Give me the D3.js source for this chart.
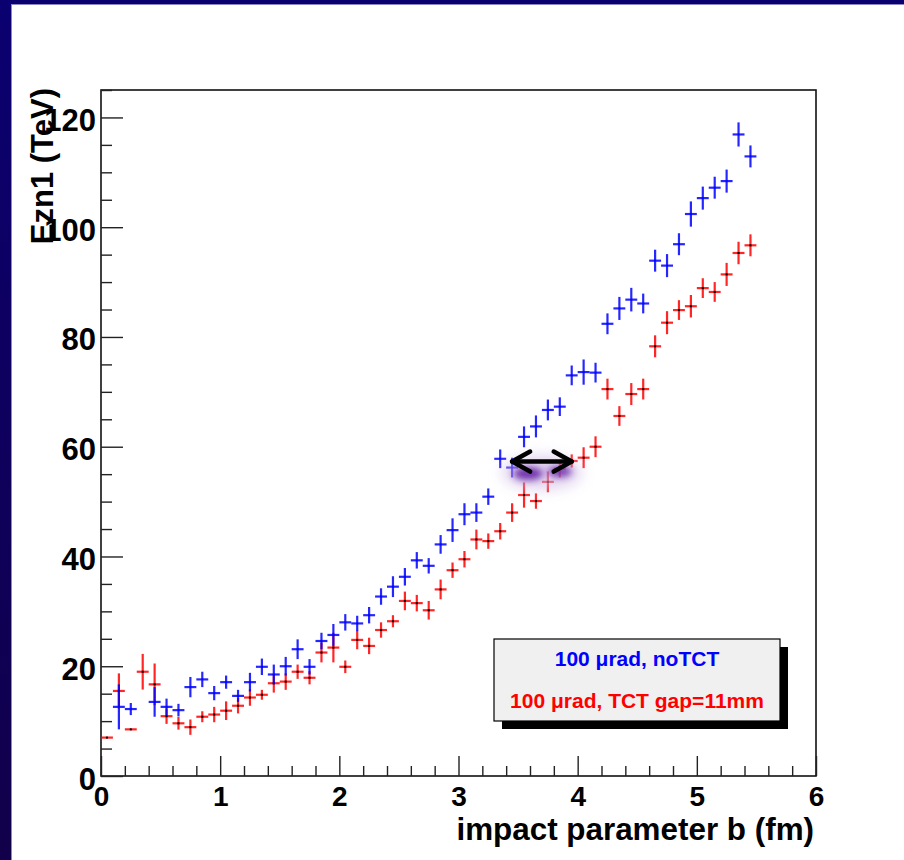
<!DOCTYPE html>
<html>
<head>
<meta charset="utf-8">
<script src="https://cdn.jsdelivr.net/npm/d3@7"></script>
<style>
  html, body { margin: 0; padding: 0; background: #0c0066; }
  svg { display: block; }
  text { font-family: "Liberation Sans", Arial, Helvetica, sans-serif; font-weight: bold; }
</style>
</head>
<body>
<svg id="chart" width="904" height="860"></svg>
<script>
// Bin centres of impact parameter b (fm)
const bCenters = [0.05, 0.15, 0.25, 0.35, 0.45, 0.55, 0.65, 0.75, 0.85, 0.95,
  1.05, 1.15, 1.25, 1.35, 1.45, 1.55, 1.65, 1.75, 1.85, 1.95,
  2.05, 2.15, 2.25, 2.35, 2.45, 2.55, 2.65, 2.75, 2.85, 2.95,
  3.05, 3.15, 3.25, 3.35, 3.45, 3.55, 3.65, 3.75, 3.85, 3.95,
  4.05, 4.15, 4.25, 4.35, 4.45, 4.55, 4.65, 4.75, 4.85, 4.95,
  5.05, 5.15, 5.25, 5.35, 5.45];
const binHalfWidth = 0.05;

// 100 µrad, noTCT — mean Ezn1 (TeV) and its error per bin (null = empty bin)
const noTctValues = [null, 12.6, 12.2, null, 13.5, 12.6, 12.0, 16.2, 17.6, 15.1,
  17.1, 14.6, 17.1, 19.9, 18.5, 20.0, 23.1, 19.9, 24.6, 25.7,
  28.0, 27.8, 29.3, 32.7, 34.5, 36.3, 39.3, 38.3, 42.2, 44.8,
  47.7, 48.0, 50.9, 57.8, 56.2, 61.8, 63.7, 66.7, 67.3, 73.0,
  73.6, 73.5, 82.4, 85.2, 86.8, 86.1, 93.9, 93.0, 96.9, 102.4,
  105.3, 107.2, 108.4, 116.9, 112.9];
const noTctErrors = [null, 4.1, 1.1, null, 2.7, 1.5, 1.15, 1.85, 1.4, 1.3,
  1.2, 1.1, 1.7, 1.5, 1.8, 1.7, 1.8, 1.4, 1.5, 2.0,
  1.5, 1.4, 1.5, 1.5, 1.9, 1.6, 1.5, 1.4, 1.7, 2.15,
  2.0, 1.7, 1.5, 1.7, 1.8, 1.9, 2.0, 1.9, 1.7, 1.8,
  2.3, 1.8, 1.9, 2.1, 2.15, 1.8, 2.0, 2.1, 2.0, 2.3,
  2.1, 2.0, 2.1, 2.2, 2.0];

// 100 µrad, TCT gap=11mm
const tctValues = [7.0, 15.5, 8.5, 19.0, 16.7, 10.9, 9.6, 8.9, 10.8, 11.2,
  11.9, 12.8, 14.3, 14.8, 16.9, 17.2, 19.0, 17.9, 22.5, 23.4,
  19.9, 24.8, 23.7, 26.6, 28.2, 31.9, 31.5, 30.2, 34.0, 37.5,
  39.5, 43.1, 42.8, 44.6, 48.0, 51.2, 50.1, 53.6, 56.0, 57.4,
  58.0, 60.0, 70.5, 65.6, 69.6, 70.5, 78.3, 82.6, 84.9, 85.6,
  88.9, 88.2, 91.4, 95.3, 96.7];
const tctErrors = [0, 3.2, 0, 3.25, 3.8, 1.4, 1.15, 1.4, 1.0, 1.4,
  1.7, 1.4, 1.5, 0.9, 1.7, 1.5, 1.3, 1.2, 1.8, 2.7,
  1.15, 1.7, 1.5, 1.4, 1.1, 1.7, 1.5, 1.7, 1.8, 1.4,
  1.5, 1.8, 1.4, 1.5, 1.7, 2.3, 1.4, 1.9, 1.6, 1.2,
  1.9, 1.9, 1.9, 1.8, 2.0, 1.9, 2.0, 2.1, 1.8, 2.05,
  1.8, 1.8, 2.1, 2.05, 2.0];

// Axis ranges and tick labels
const xDomain = [0, 6];
const yDomain = [0, 125];
const xMajorTicks = [0, 1, 2, 3, 4, 5, 6];
const yMajorTicks = [0, 20, 40, 60, 80, 100, 120];
const xMinorTicks = [0.2, 0.4, 0.6, 0.8, 1.2, 1.4, 1.6, 1.8, 2.2, 2.4, 2.6, 2.8,
  3.2, 3.4, 3.6, 3.8, 4.2, 4.4, 4.6, 4.8, 5.2, 5.4, 5.6, 5.8];
const yMinorTicks = [5, 10, 15, 25, 30, 35, 45, 50, 55, 65, 70, 75, 85, 90, 95, 105, 110, 115, 125];

const xTitle = "impact parameter b (fm)";
const yTitle = "Ezn1 (TeV)";
const legendLabels = ["100 \u03bcrad, noTCT", "100 \u03bcrad, TCT gap=11mm"];

// Double arrow marking the shift between the two curves
const shiftArrow = { from: 3.45, to: 3.95, level: 57.3 };

const svg = d3.select("#chart");
const W = 904, H = 860;

// Slide background: navy surround with a white canvas
const defs = svg.append("defs");
const bg = defs.append("linearGradient").attr("id", "navy").attr("x1", 0).attr("y1", 0).attr("x2", 0).attr("y2", 1);
bg.append("stop").attr("offset", "0%").attr("stop-color", "#0b0070");
bg.append("stop").attr("offset", "100%").attr("stop-color", "#12004a");
const blur = defs.append("filter").attr("id", "glow").attr("x", "-50%").attr("y", "-100%").attr("width", "200%").attr("height", "300%");
blur.append("feGaussianBlur").attr("stdDeviation", 3.5);
const blurWide = defs.append("filter").attr("id", "haze").attr("x", "-50%").attr("y", "-100%").attr("width", "200%").attr("height", "300%");
blurWide.append("feGaussianBlur").attr("stdDeviation", 7);

svg.append("rect").attr("width", W).attr("height", H).attr("fill", "url(#navy)");
svg.append("rect").attr("x", 11).attr("y", 4).attr("width", W - 11).attr("height", H - 4).attr("fill", "#8a88c4");
svg.append("rect").attr("x", 12).attr("y", 5).attr("width", W - 12).attr("height", H - 5).attr("fill", "#ffffff");

// Scales
const x = d3.scaleLinear().domain(xDomain).range([101, 816]);
const y = d3.scaleLinear().domain(yDomain).range([776, 90]);

// Frame
svg.append("rect")
  .attr("x", x(0)).attr("y", y(125))
  .attr("width", x(6) - x(0)).attr("height", y(0) - y(125))
  .attr("fill", "none").attr("stroke", "#111").attr("stroke-width", 1.6);

// Y axis: inward ticks, major + minor
const yAxisMajor = d3.axisLeft(y).tickValues(yMajorTicks).tickSize(-22).tickPadding(5).tickFormat(d3.format("d"));
const yAxisMinor = d3.axisLeft(y).tickValues(yMinorTicks).tickSize(-11).tickFormat("");
const gyMinor = svg.append("g").attr("transform", `translate(${x(0)},0)`).call(yAxisMinor);
const gy = svg.append("g").attr("transform", `translate(${x(0)},0)`).call(yAxisMajor);

// X axis: inward ticks, major + minor
const xAxisMajor = d3.axisBottom(x).tickValues(xMajorTicks).tickSize(-20).tickPadding(10).tickFormat(d3.format("d"));
const xAxisMinor = d3.axisBottom(x).tickValues(xMinorTicks).tickSize(-10).tickFormat("");
const gxMinor = svg.append("g").attr("transform", `translate(0,${y(0)})`).call(xAxisMinor);
const gx = svg.append("g").attr("transform", `translate(0,${y(0)})`).call(xAxisMajor);

[gy, gyMinor, gx, gxMinor].forEach(g => {
  g.select(".domain").remove();
  g.selectAll(".tick line").attr("stroke", "#222").attr("stroke-width", 1.4);
});
gy.selectAll(".tick text")
  .attr("font-size", 31).attr("fill", "#000").attr("dy", "0.42em")
  .attr("font-family", "'Liberation Sans', Arial, sans-serif").attr("font-weight", "bold");
gx.selectAll(".tick text")
  .attr("font-size", 28).attr("fill", "#000")
  .attr("font-family", "'Liberation Sans', Arial, sans-serif").attr("font-weight", "bold");

// Axis titles
svg.append("text")
  .attr("transform", `translate(53,${y(125) - 2}) rotate(-90)`)
  .attr("text-anchor", "end")
  .attr("font-size", 31).attr("fill", "#000")
  .text(yTitle);
svg.append("text")
  .attr("x", x(6) - 2).attr("y", 840)
  .attr("text-anchor", "end")
  .attr("font-size", 31.4).attr("fill", "#000")
  .text(xTitle);

// Data points with error bars
function series(values, errors, color, dot) {
  const pts = bCenters.map((b, i) => ({ b, v: values[i], e: errors[i] })).filter(d => d.v !== null);
  const g = svg.append("g");
  const pt = g.selectAll("g.pt").data(pts).join("g").attr("class", "pt");
  pt.append("line")
    .attr("x1", d => x(d.b - binHalfWidth)).attr("x2", d => x(d.b + binHalfWidth))
    .attr("y1", d => y(d.v)).attr("y2", d => y(d.v))
    .attr("stroke", color).attr("stroke-width", 2.2).attr("stroke-opacity", 0.85);
  pt.filter(d => d.e > 0).append("line")
    .attr("x1", d => x(d.b)).attr("x2", d => x(d.b))
    .attr("y1", d => y(d.v + d.e)).attr("y2", d => y(d.v - d.e))
    .attr("stroke", color).attr("stroke-width", 2.2).attr("stroke-opacity", 0.85);
  if (dot) {
    pt.append("rect")
      .attr("x", d => x(d.b) - 1).attr("y", d => y(d.v) - 1)
      .attr("width", 2).attr("height", 2).attr("fill", "#000");
  }
}
series(tctValues, tctErrors, "#ff0000", true);
series(noTctValues, noTctErrors, "#0000ff", false);

// Arrow with its purple glow
const ax1 = x(shiftArrow.from), ax2 = x(shiftArrow.to), ay = y(shiftArrow.level);
const glow = svg.append("g");
glow.append("ellipse").attr("cx", (ax1 + ax2) / 2).attr("cy", ay + 11).attr("rx", 40).attr("ry", 17)
  .attr("fill", "#cdb6e4").attr("opacity", 0.6).attr("filter", "url(#haze)");
glow.append("ellipse").attr("cx", ax1 + 16).attr("cy", ay + 12).attr("rx", 15).attr("ry", 6.5)
  .attr("fill", "#6a2aa8").attr("opacity", 0.95).attr("filter", "url(#glow)");
glow.append("ellipse").attr("cx", ax2 - 12).attr("cy", ay + 10).attr("rx", 12).attr("ry", 5.5)
  .attr("fill", "#6a2aa8").attr("opacity", 0.9).attr("filter", "url(#glow)");

const arrow = svg.append("g").attr("stroke", "#000").attr("stroke-width", 4.5)
  .attr("fill", "none").attr("stroke-linecap", "round").attr("stroke-linejoin", "round");
arrow.append("line").attr("x1", ax1).attr("x2", ax2).attr("y1", ay).attr("y2", ay);
arrow.append("polyline").attr("points", `${ax1 + 18},${ay - 10} ${ax1},${ay} ${ax1 + 18},${ay + 10}`);
arrow.append("polyline").attr("points", `${ax2 - 18},${ay - 10} ${ax2},${ay} ${ax2 - 18},${ay + 10}`);

// Legend with drop shadow
const lg = svg.append("g");
lg.append("rect").attr("x", 502).attr("y", 647).attr("width", 286).attr("height", 82).attr("fill", "#000");
lg.append("rect").attr("x", 494).attr("y", 639).attr("width", 286).attr("height", 82)
  .attr("fill", "#f0f0f0").attr("stroke", "#000").attr("stroke-width", 1.2);
lg.append("text").attr("x", 637).attr("y", 666).attr("text-anchor", "middle")
  .attr("font-size", 21).attr("fill", "#0000ff").text(legendLabels[0]);
lg.append("text").attr("x", 637).attr("y", 708).attr("text-anchor", "middle")
  .attr("font-size", 21).attr("fill", "#ff0000").text(legendLabels[1]);
</script>
</body>
</html>
